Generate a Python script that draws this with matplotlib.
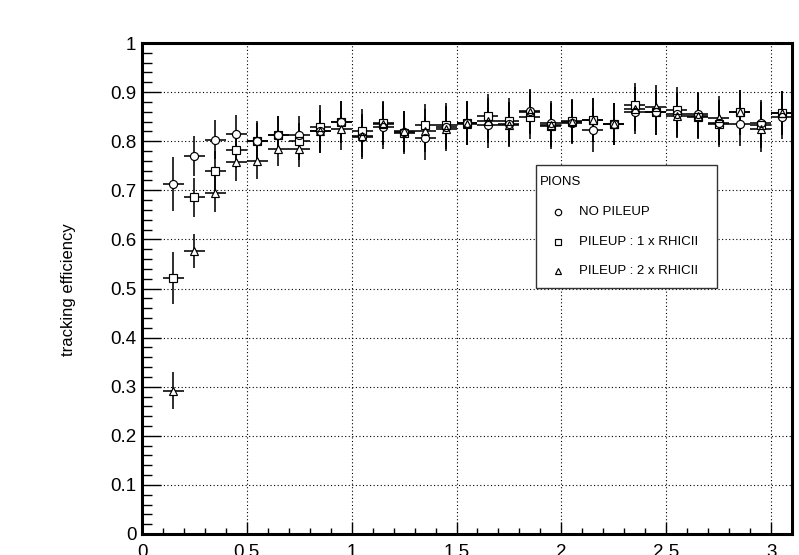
import matplotlib
matplotlib.use("Agg")
import matplotlib.pyplot as plt
from matplotlib.patches import Rectangle

plt.rcParams['font.family'] = ['Liberation Sans', 'DejaVu Sans']

# ---------------- data ----------------
eta = [0.15, 0.25, 0.35, 0.45, 0.55, 0.65, 0.75, 0.85, 0.95, 1.05,
       1.15, 1.25, 1.35, 1.45, 1.55, 1.65, 1.75, 1.85, 1.95, 2.05,
       2.15, 2.25, 2.35, 2.45, 2.55, 2.65, 2.75, 2.85, 2.95, 3.05]
bin_half_width = [0.05] * 30

eff_no_pileup = [0.713, 0.770, 0.803, 0.815, 0.800, 0.813, 0.813, 0.820, 0.840, 0.808,
                 0.829, 0.819, 0.806, 0.828, 0.838, 0.832, 0.835, 0.861, 0.837, 0.838,
                 0.823, 0.835, 0.860, 0.859, 0.855, 0.855, 0.838, 0.836, 0.838, 0.849]
err_no_pileup = [0.055, 0.040, 0.040, 0.038, 0.038, 0.038, 0.038, 0.044, 0.042, 0.044,
                 0.044, 0.042, 0.044, 0.044, 0.044, 0.045, 0.045, 0.045, 0.045, 0.044,
                 0.044, 0.042, 0.045, 0.046, 0.046, 0.046, 0.046, 0.046, 0.046, 0.045]

eff_pileup1 = [0.522, 0.686, 0.740, 0.783, 0.801, 0.813, 0.800, 0.829, 0.839, 0.821,
               0.838, 0.816, 0.832, 0.834, 0.837, 0.852, 0.842, 0.849, 0.830, 0.842,
               0.843, 0.835, 0.873, 0.859, 0.864, 0.850, 0.835, 0.859, 0.833, 0.858]
err_pileup1 = [0.053, 0.040, 0.040, 0.038, 0.040, 0.038, 0.038, 0.044, 0.042, 0.044,
               0.044, 0.042, 0.044, 0.044, 0.044, 0.045, 0.045, 0.045, 0.045, 0.044,
               0.044, 0.042, 0.045, 0.046, 0.046, 0.046, 0.046, 0.046, 0.046, 0.045]

eff_pileup2 = [0.292, 0.577, 0.694, 0.757, 0.759, 0.785, 0.785, 0.820, 0.824, 0.811,
               0.836, 0.820, 0.821, 0.825, 0.836, 0.842, 0.833, 0.859, 0.833, 0.840,
               0.843, 0.835, 0.866, 0.869, 0.852, 0.852, 0.847, 0.859, 0.825, 0.858]
err_pileup2 = [0.037, 0.035, 0.038, 0.038, 0.037, 0.036, 0.037, 0.044, 0.042, 0.044,
               0.044, 0.042, 0.044, 0.044, 0.044, 0.045, 0.045, 0.045, 0.045, 0.044,
               0.044, 0.042, 0.045, 0.046, 0.046, 0.046, 0.046, 0.046, 0.046, 0.045]

series_labels = ["NO PILEUP", "PILEUP : 1 x RHICII", "PILEUP : 2 x RHICII"]
legend_title = "PIONS"
y_label = "tracking efficiency"
x_ticks = [0, 0.5, 1, 1.5, 2, 2.5, 3]
x_tick_labels = ["0", "0.5", "1", "1.5", "2", "2.5", "3"]
y_ticks = [0, 0.1, 0.2, 0.3, 0.4, 0.5, 0.6, 0.7, 0.8, 0.9, 1.0]
y_tick_labels = ["0", "0.1", "0.2", "0.3", "0.4", "0.5", "0.6", "0.7", "0.8", "0.9", "1"]

# ---------------- figure ----------------
W, H = 799, 555
fig = plt.figure(figsize=(W / 100, H / 100), dpi=100)
ax = fig.add_axes([142 / W, (H - 534) / H, (792 - 142) / W, (534 - 43) / H])

series = [
    (eff_no_pileup, err_no_pileup, 'o'),
    (eff_pileup1, err_pileup1, 's'),
    (eff_pileup2, err_pileup2, '^'),
]
msize = {'o': 5.8, 's': 5.5, '^': 5.8}

# error bars first
for vals, errs, m in series:
    ax.errorbar(eta, vals, yerr=errs, xerr=bin_half_width, fmt='none',
                ecolor='black', elinewidth=1.15, capsize=0, zorder=2)
# white-filled markers to hide lines inside markers
for vals, errs, m in series:
    ax.plot(eta, vals, linestyle='none', marker=m, markersize=msize[m],
            markerfacecolor='white', markeredgecolor='none', zorder=3)
# marker outlines
for vals, errs, m in series:
    ax.plot(eta, vals, linestyle='none', marker=m, markersize=msize[m],
            markerfacecolor='none', markeredgecolor='black',
            markeredgewidth=0.85, zorder=4)

ax.set_xlim(0, 3.1)
ax.set_ylim(0, 1)
ax.set_xticks(x_ticks)
ax.set_xticklabels(x_tick_labels)
ax.set_yticks(y_ticks)
ax.set_yticklabels(y_tick_labels)
ax.set_xticks([v / 10 for v in range(0, 32)], minor=True)
ax.set_yticks([v / 50 for v in range(0, 51)], minor=True)

ax.tick_params(axis='both', which='both', direction='in', colors='black',
               labelsize=13.5, top=False, right=False)
ax.tick_params(axis='x', which='major', length=9, width=1.0, pad=7)
ax.tick_params(axis='x', which='minor', length=4.5, width=1.0)
ax.tick_params(axis='y', which='major', length=14, width=1.0, pad=4)
ax.tick_params(axis='y', which='minor', length=7.5, width=1.0)

ax.grid(True, which='major', color='black', linestyle=(0, (1, 2.2)),
        linewidth=0.8, zorder=0)
ax.set_axisbelow(True)

for sp in ax.spines.values():
    sp.set_linewidth(2.2)
    sp.set_color('black')

fig.text(68 / W, 1 - 290 / H, y_label, rotation=90, ha='center', va='center',
         fontsize=12)

# ---------------- legend box ----------------
def ax_xy(px, py):
    return (px - 142) / 650, (534 - py) / 491

x0, y0 = ax_xy(536, 288)
x1, y1 = ax_xy(717, 165)
ax.add_patch(Rectangle((x0, y0), x1 - x0, y1 - y0, transform=ax.transAxes,
                       facecolor='white', edgecolor='#333333', linewidth=1.0,
                       zorder=10))
tx, ty = ax_xy(540, 182)
ax.text(tx, ty, legend_title, transform=ax.transAxes, ha='left', va='center',
        fontsize=9.5, zorder=11)
row_y = [212, 241.5, 271]
for (vals, errs, m), lab, ry in zip(series, series_labels, row_y):
    mx, my = ax_xy(557.5, ry)
    ax.plot([mx], [my], transform=ax.transAxes, marker=m, markersize=4.6,
            markerfacecolor='white', markeredgecolor='black',
            markeredgewidth=0.85, linestyle='none', zorder=11, clip_on=False)
    lx, ly = ax_xy(579, ry)
    ax.text(lx, ly, lab, transform=ax.transAxes, ha='left', va='center',
            fontsize=9.5, zorder=11)

fig.savefig("out.png", dpi=100)
